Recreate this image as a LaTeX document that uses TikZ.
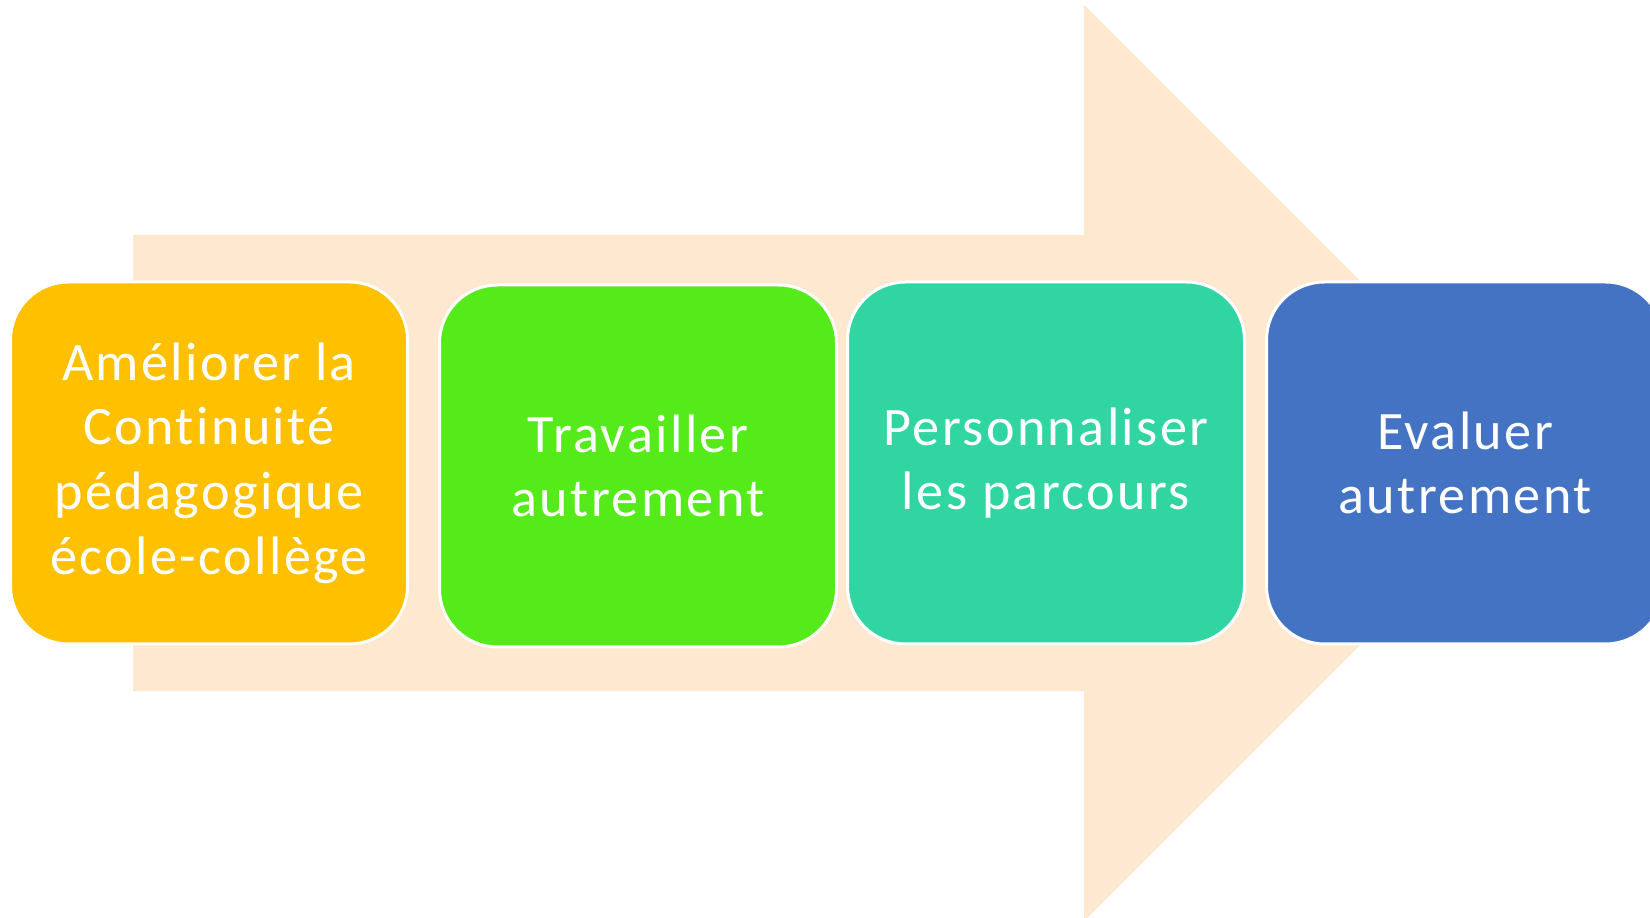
\documentclass[tikz,border=0pt]{standalone}
\usepackage{fontspec}
\setmainfont{Carlito}[LetterSpace=4.5,Ligatures=NoCommon]
\definecolor{peach}{HTML}{FEE8CF}
\definecolor{stepone}{HTML}{FFC000}
\definecolor{steptwo}{HTML}{55EB1A}
\definecolor{stepthree}{HTML}{30D5A1}
\definecolor{stepfour}{HTML}{4573C4}
\begin{document}
\begin{tikzpicture}[x=0.1mm,y=-0.1mm,
  every node/.style={draw=white,line width=0.3mm,rounded corners=5.8mm,
    minimum width=39.7mm,minimum height=36.2mm,text=white,align=center,
    font=\fontsize{15.4}{18.4}\selectfont}]
\useasboundingbox (0,0) rectangle (1650,918);
\clip (0,0) rectangle (1650,918);
\fill[peach] (133,235) -- (1084,235) -- (1084,5) -- (1542,463) -- (1084,921)
  -- (1084,691) -- (133,691) -- cycle;
\node[fill=stepone] (s1) at (209,463) {Améliorer la\\Continuité\\pédagogique\\école-collège};
\node[fill=steptwo] (s2) at (638,466) {Travailler\\autrement};
\node[fill=stepthree] (s3) at (1046,463) {Personnaliser\\les parcours};
\node[fill=stepfour] (s4) at (1465,463) {Evaluer\\autrement};
\end{tikzpicture}
\end{document}
